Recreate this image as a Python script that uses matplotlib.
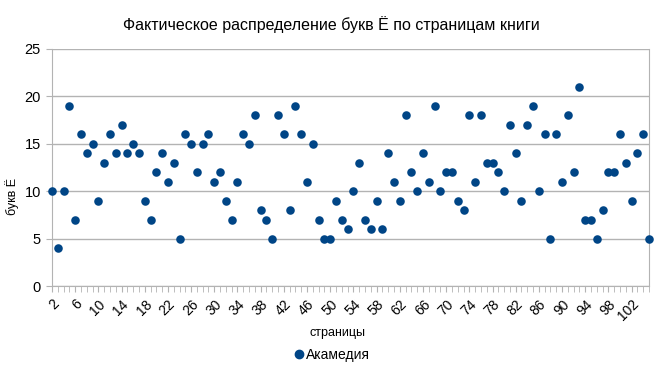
import matplotlib
matplotlib.use("Agg")
import matplotlib.pyplot as plt
from matplotlib.lines import Line2D

plt.rcParams['font.family'] = ['Liberation Sans', 'DejaVu Sans']

pages = list(range(2, 106))
letters = [10, 4, 10, 19, 7, 16, 14, 15, 9, 13, 16, 14, 17, 14, 15, 14, 9, 7, 12, 14,
           11, 13, 5, 16, 15, 12, 15, 16, 11, 12, 9, 7, 11, 16, 15, 18, 8, 7, 5, 18,
           16, 8, 19, 16, 11, 15, 7, 5, 5, 9, 7, 6, 10, 13, 7, 6, 9, 6, 14, 11,
           9, 18, 12, 10, 14, 11, 19, 10, 12, 12, 9, 8, 18, 11, 18, 13, 13, 12, 10, 17,
           14, 9, 17, 19, 10, 16, 5, 16, 11, 18, 12, 21, 7, 7, 5, 8, 12, 12, 16, 13,
           9, 14, 16, 5]
tick_labels = list(range(2, 103, 4))
series_name = "Акамедия"
title = "Фактическое распределение букв Ё по страницам книги"

fig = plt.figure(figsize=(6.63, 3.73), dpi=100)
ax = fig.add_axes([52/663, 1-286/373, (649-52)/663, (286-49)/373])

ax.scatter(pages, letters, s=38, color='#004586', zorder=3, clip_on=False, linewidths=0)

ax.set_xlim(2, 105)
ax.set_ylim(0, 25)
ax.set_yticks(range(0, 26, 5))
ax.yaxis.grid(True, color='#b3b3b3', linewidth=1)
ax.set_axisbelow(True)
ax.tick_params(axis='y', length=4, color='#b3b3b3', pad=4, labelsize=10.5)

ax.set_xticks(tick_labels)
ax.set_xticks(pages, minor=True)
ax.set_xticklabels([str(t) for t in tick_labels], rotation=45, ha='right', va='top',
                   rotation_mode='anchor', fontsize=10)
ax.tick_params(axis='x', which='both', length=4, color='#b3b3b3', pad=4)

for sp in ax.spines.values():
    sp.set_color('#b3b3b3')
ax.spines['top'].set_visible(False)

fig.text(0.5, 1-25/373, title, ha='center', va='center', fontsize=11.5)
fig.text(337/663, 1-333/373, "страницы", ha='center', va='center', fontsize=9)
fig.text(12/663, 1-196/373, "букв Ё", ha='center', va='center', fontsize=9, rotation=90)

handle = Line2D([], [], marker='o', linestyle='none', color='#004586', markersize=6)
fig.legend([handle], [series_name], loc='center', bbox_to_anchor=(331/663, 1-355/373),
           frameon=False, fontsize=10, handletextpad=0.05, handlelength=1)

fig.savefig("out.png", dpi=100)
